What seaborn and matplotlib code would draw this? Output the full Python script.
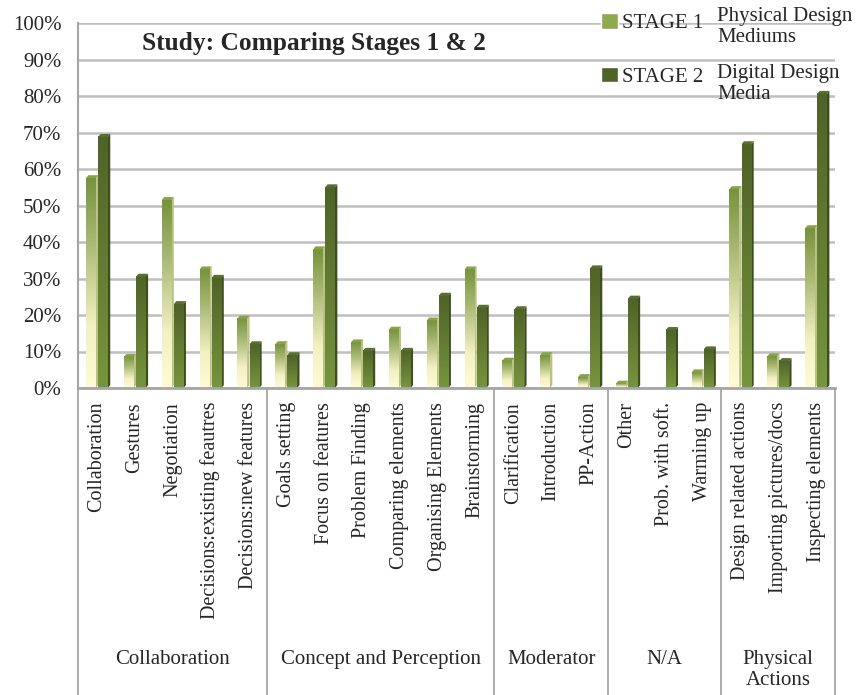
import numpy as np
import pandas as pd
import seaborn as sns
import matplotlib.pyplot as plt
import matplotlib.transforms as mtransforms
from matplotlib.patches import Polygon
from matplotlib.colors import LinearSegmentedColormap

# data (percent)
categories = ["Collaboration", "Gestures", "Negotiation", "Decisions:existing feautres",
              "Decisions:new features", "Goals setting", "Focus on features", "Problem Finding",
              "Comparing elements", "Organising Elements", "Brainstorming", "Clarification",
              "Introduction", "PP-Action", "Other", "Prob. with soft.", "Warming up",
              "Design related actions", "Importing pictures/docs", "Inspecting elements"]
groups = ["Collaboration", "Concept and Perception", "Moderator", "N/A", "Physical\nActions"]
group_sizes = [5, 6, 3, 3, 3]
stage1 = [57.5, 8.5, 51.5, 32.5, 19, 12, 38, 12.5, 16, 18.5, 32.5, 7.5, 9, 3, 1.2, 0, 4.3, 54.5, 8.7, 43.8]
stage2 = [68.8, 30.5, 23, 30.2, 12, 9, 55, 10.2, 10.2, 25.3, 22, 21.6, 0, 32.8, 24.5, 15.9, 10.6, 66.8, 7.4, 80.6]
stage_names = ["STAGE 1", "STAGE 2"]
stage_notes = ["Physical Design\nMediums", "Digital Design\nMedia"]
y_ticks = list(range(0, 101, 10))

df = pd.DataFrame({
    "category": categories * 2,
    "value": stage1 + stage2,
    "stage": [stage_names[0]] * len(categories) + [stage_names[1]] * len(categories),
})

sns.set_style("white")
plt.rcParams["font.family"] = ["Liberation Serif", "DejaVu Serif"]

W, H = 856, 695
fig = plt.figure(figsize=(W / 100, H / 100), dpi=100)
ax = fig.add_axes([78 / W, 1 - 388 / H, 757 / W, 365 / H])

sns.barplot(data=df, x="category", y="value", hue="stage", order=categories,
            palette=["#8FAA4C", "#4F6228"], width=0.64, gap=0.2, saturation=1, ax=ax)

# gradient fill + fake 3d side/top faces for each bar
cmaps = [
    LinearSegmentedColormap.from_list("s1", [(0, "#FFFBD6"), (0.3, "#F3F0C2"), (0.7, "#A8B873"), (1, "#76933C")]),
    LinearSegmentedColormap.from_list("s2", [(0, "#77953D"), (1, "#4F6228")]),
]
side_colors = ["#B9C183", "#3E4E1F"]
top_colors = ["#87A247", "#5A6F2E"]
grad = np.linspace(0, 1, 256).reshape(-1, 1)
d, dy = 0.064, 0.8
for cont, cmap, sc, tc in zip(ax.containers, cmaps, side_colors, top_colors):
    for bar in cont:
        x, w, h = bar.get_x(), bar.get_width(), bar.get_height()
        if h <= 0:
            continue
        bar.set_edgecolor("none")
        ax.imshow(grad, extent=[x, x + w, 0, h], origin="lower", aspect="auto",
                  cmap=cmap, zorder=2.5, interpolation="bilinear")
        ax.add_patch(Polygon([(x + w, 0), (x + w + d, dy), (x + w + d, h + dy), (x + w, h)],
                             closed=True, facecolor=sc, edgecolor="none", zorder=2.4))
        ax.add_patch(Polygon([(x, h), (x + d, h + dy), (x + w + d, h + dy), (x + w, h)],
                             closed=True, facecolor=tc, edgecolor="none", zorder=2.6))

ax.set_xlim(-0.5, len(categories) - 0.5)
ax.set_ylim(0, 100)
ax.set_xlabel("")
ax.set_ylabel("")

ax.set_yticks(y_ticks)
ax.set_yticklabels([f"{t}%" for t in y_ticks], fontsize=15)
ax.tick_params(axis="y", length=0, pad=12)
ax.set_xticks(range(len(categories)))
ax.set_xticklabels(categories, rotation=90, fontsize=14.5)
ax.tick_params(axis="x", length=0, pad=10)

ax.set_axisbelow(True)
ax.yaxis.grid(True, color="#BFBFBF", lw=1.8)
ax.xaxis.grid(False)
for side in ["top", "right"]:
    ax.spines[side].set_visible(False)
ax.spines["left"].set_color("#A6A6A6")
ax.spines["left"].set_linewidth(1.5)
ax.spines["bottom"].set_color("#A6A6A6")
ax.spines["bottom"].set_linewidth(2)

# group dividers and group labels below the category labels
trans = mtransforms.blended_transform_factory(ax.transData, fig.transFigure)
bounds = np.cumsum([0] + group_sizes) - 0.5
for b in bounds:
    ax.plot([b, b], [0, 1 - 388 / H], transform=trans, color="#A6A6A6", lw=1.3, clip_on=False)
for g, lo, hi in zip(groups, bounds[:-1], bounds[1:]):
    ax.text((lo + hi) / 2, 1 - 650 / H, g, transform=trans, ha="center", va="top",
            fontsize=15, multialignment="center", linespacing=1.15)

# legend
handles, _ = ax.get_legend_handles_labels()
ax.get_legend().remove()
fig.legend(handles, stage_names, loc="upper left", bbox_to_anchor=(601 / W, 1 - 13 / H),
           frameon=False, fontsize=15, handlelength=0.8, handleheight=0.8,
           handletextpad=0.2, labelspacing=1.6, borderpad=0, borderaxespad=0)
fig.text(717 / W, 1 - 7 / H, stage_notes[0], fontsize=15, va="top", linespacing=1.15)
fig.text(717 / W, 1 - 64 / H, stage_notes[1], fontsize=15, va="top", linespacing=1.15)

fig.text(142 / W, 1 - 50 / H, "Study: Comparing Stages 1 & 2", fontsize=18.3,
         fontweight="bold", va="baseline")

fig.savefig("out.png", dpi=100)
